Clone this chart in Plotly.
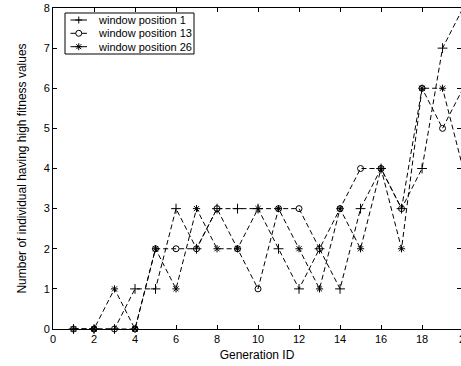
import plotly.graph_objects as go

generation = list(range(1, 21))
pos1 = [0, 0, 0, 1, 1, 3, 2, 3, 3, 3, 2, 1, 2, 1, 3, 4, 3, 4, 7, 8]
pos13 = [0, 0, 0, 0, 2, 2, 2, 3, 2, 1, 3, 3, 2, 3, 4, 4, 3, 6, 5, 6]
pos26 = [0, 0, 1, 0, 2, 1, 3, 2, 2, 3, 3, 2, 1, 3, 2, 4, 2, 6, 6, 4]
series_names = ["window position 1", "window position 13", "window position 26"]
x_ticks = [0, 2, 4, 6, 8, 10, 12, 14, 16, 18, 20]

series = [
    (series_names[0], pos1, "cross-thin-open", 7),
    (series_names[1], pos13, "circle-open", 6),
    (series_names[2], pos26, "asterisk-open", 6),
]

FONT = "Liberation Sans, Arial, Helvetica, sans-serif"

# plot area in pixels
L, R, T, B = 53, 461, 8, 329
W, H = 461, 366


def px(p):
    return (p - L) / (R - L)


def py(p):
    return (B - p) / (B - T)


fig = go.Figure()
for name, vals, sym, sz in series:
    fig.add_trace(go.Scatter(
        x=generation, y=vals, name=name, mode="lines+markers",
        line=dict(color="black", width=1, dash="5px,3px"),
        marker=dict(symbol=sym, size=sz, color="black",
                    line=dict(color="black", width=1)),
        cliponaxis=False, showlegend=False,
    ))

axis_common = dict(
    showline=True, linecolor="black", linewidth=1, mirror="ticks",
    ticks="inside", ticklen=4, tickcolor="black", tickwidth=1,
    showgrid=False, zeroline=False,
    tickfont=dict(family=FONT, size=11, color="black"),
)

fig.update_layout(
    width=W, height=H,
    margin=dict(l=L, r=W - R, t=T, b=H - B),
    paper_bgcolor="white", plot_bgcolor="white",
    font=dict(family=FONT, color="black"),
    showlegend=False,
    xaxis=dict(range=[0, 19.9], tickmode="array", tickvals=x_ticks,
               title=dict(text="Generation ID", standoff=6,
                          font=dict(family=FONT, size=12, color="black")),
               **axis_common),
    yaxis=dict(range=[0, 8], dtick=1, tick0=0,
               title=dict(text="Number of individual having high fitness values",
                          standoff=14,
                          font=dict(family=FONT, size=12, color="black")),
               **axis_common),
)

# cut-off "20" tick label at the right edge
fig.add_annotation(x=px(457), y=0, xref="paper", yref="y", text=str(x_ticks[-1]),
                   showarrow=False, xanchor="left", yanchor="top", yshift=-2,
                   font=dict(family=FONT, size=11, color="black"))

# manual legend (compact, MATLAB style)
box = dict(x0=65, x1=194, y0=13, y1=54)
fig.add_shape(type="rect", xref="paper", yref="paper",
              x0=px(box["x0"]), x1=px(box["x1"]), y0=py(box["y1"]), y1=py(box["y0"]),
              line=dict(color="black", width=1), fillcolor="white", layer="above")
rows = [20, 33.3, 46.7]
sx0, sx1, sxm, tx = 70.5, 87, 78.75, 96
for (name, _, sym, _), ry in zip(series, rows):
    fig.add_shape(type="line", xref="paper", yref="paper",
                  x0=px(sx0), x1=px(sx1), y0=py(ry), y1=py(ry),
                  line=dict(color="black", width=1), layer="above")
    common = dict(xref="paper", yref="paper", xsizemode="pixel", ysizemode="pixel",
                  xanchor=px(sxm), yanchor=py(ry), layer="above")
    if sym == "circle-open":
        fig.add_shape(type="circle", x0=-3, x1=3, y0=-3, y1=3,
                      line=dict(color="black", width=1), fillcolor="white", **common)
    else:
        segs = [(-3.5, 0, 3.5, 0), (0, -3.5, 0, 3.5)]
        if sym == "asterisk-open":
            segs += [(-2.5, -2.5, 2.5, 2.5), (-2.5, 2.5, 2.5, -2.5)]
        for a, b, c, d in segs:
            fig.add_shape(type="line", x0=a, y0=b, x1=c, y1=d,
                          line=dict(color="black", width=1), **common)
    fig.add_annotation(x=px(tx), y=py(ry), xref="paper", yref="paper", text=name,
                       showarrow=False, xanchor="left", yanchor="middle",
                       font=dict(family=FONT, size=11, color="black"))

fig.write_html("out.html")
